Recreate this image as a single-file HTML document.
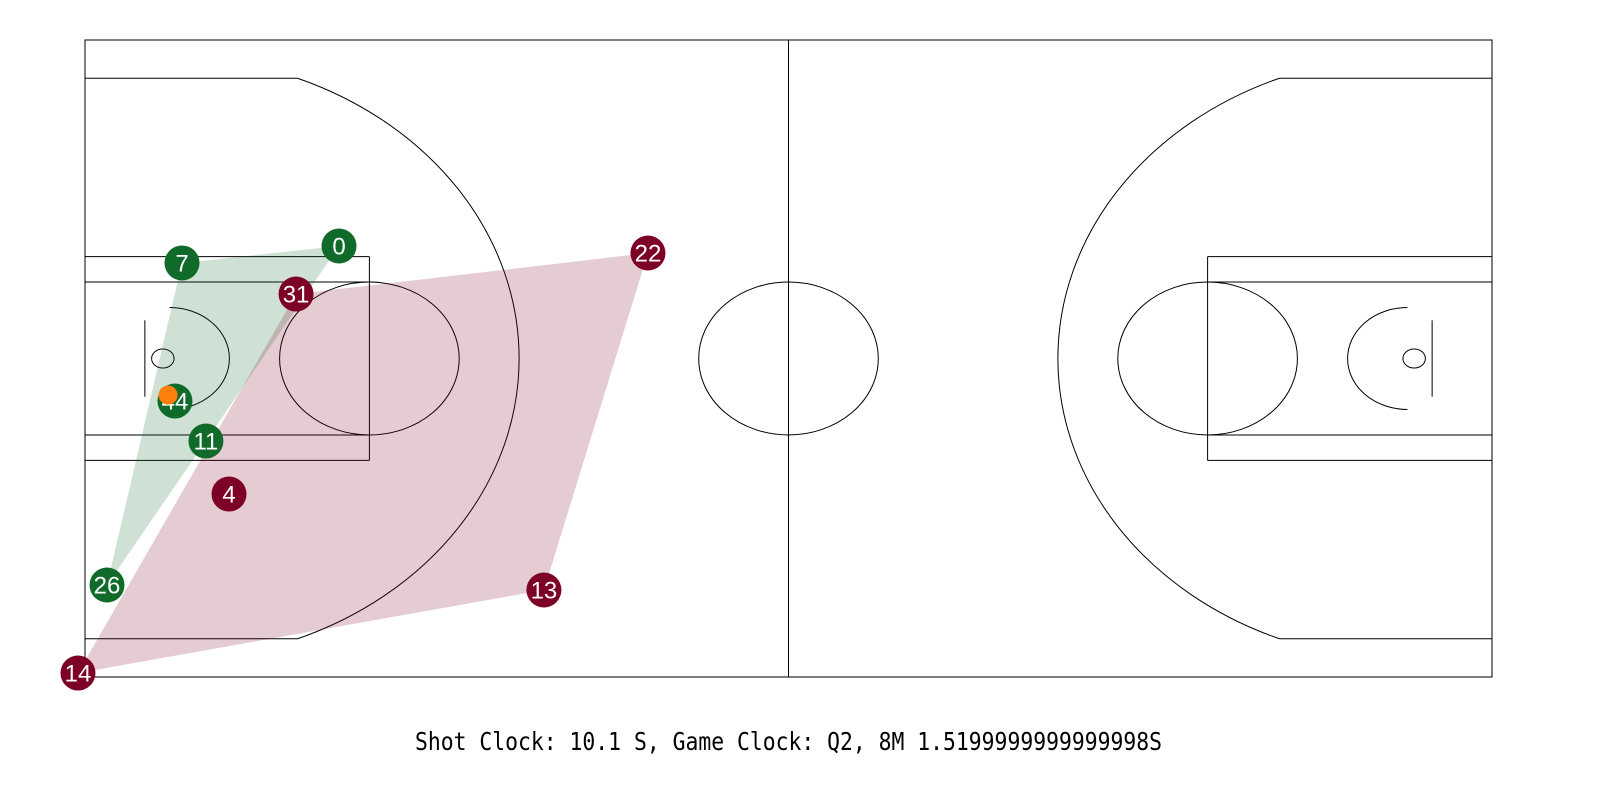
<!DOCTYPE html>
<html><head><meta charset="utf-8"><style>
html,body{margin:0;padding:0;background:#fff;}
svg{display:block;}
</style></head><body>
<svg id="chart" width="1600" height="800" viewBox="0 0 1600 800" xmlns="http://www.w3.org/2000/svg">
<g id="court" fill="none" stroke="#000" stroke-width="1"></g>
<g id="hulls"></g>
<g id="players"></g>
<text id="caption" x="415" y="750" font-family="DejaVu Sans Mono, Liberation Mono, monospace" font-size="25" textLength="747" lengthAdjust="spacingAndGlyphs"></text>
</svg>
<script>
// data (feet, court 94 x 50, y measured from top)
const homeNumbers = ["7","0","44","11","26"];
const homeX = [6.48, 16.97, 6.01, 8.08, 1.47];
const homeY = [17.50, 16.17, 28.34, 31.48, 42.78];
const awayNumbers = ["31","22","4","13","14"];
const awayX = [14.1, 37.61, 9.62, 30.66, -0.47];
const awayY = [19.94, 16.72, 35.64, 43.17, 49.69];
const ballPos = [5.55, 27.87];
const shotClock = ["10.1"];
const gameClock = ["Q2", "8M 1.5199999999999998S"];

const NS = "http://www.w3.org/2000/svg";
const X = v => 85 + v * (1407 / 94);
const Y = v => 40 + v * (637 / 50);
const SX = v => v * (1407 / 94), SY = v => v * (637 / 50);

function mk(tag, attrs, parent) {
  const e = document.createElementNS(NS, tag);
  for (const k in attrs) e.setAttribute(k, attrs[k]);
  parent.appendChild(e);
  return e;
}
const court = document.getElementById('court');
function line(x1, y1, x2, y2, name) {
  const e = mk('line', {x1: X(x1), y1: Y(y1), x2: X(x2), y2: Y(y2)}, court);
  
  
}
function ell(cx, cy, r, name) {
  const e = mk('ellipse', {cx: X(cx), cy: Y(cy), rx: SX(r), ry: SY(r)}, court);
  
  
}
function path(d, name) {
  const e = mk('path', {d: d}, court);
  
  
}
const b = mk('rect', {x: X(0), y: Y(0), width: SX(94), height: SY(50)}, court);


line(47, 0, 47, 50, 'half-court-line');
ell(47, 25, 6, 'center-circle');
[0, 1].forEach(side => {
  const f = v => side ? 94 - v : v;
  const s = side ? 'right' : 'left';
  line(f(0), 17, f(19), 17, s + '-paint-outer-top');
  line(f(0), 33, f(19), 33, s + '-paint-outer-bottom');
  line(f(19), 17, f(19), 33, s + '-free-throw-line');
  line(f(0), 19, f(19), 19, s + '-paint-inner-top');
  line(f(0), 31, f(19), 31, s + '-paint-inner-bottom');
  ell(f(19), 25, 6, s + '-free-throw-circle');
  ell(f(5.2), 25, 0.75, s + '-hoop');
  line(f(4), 22, f(4), 28, s + '-backboard');
  const rx = X(f(5.65));
  path(`M ${rx} ${Y(21)} A ${SX(4)} ${SY(4)} 0 0 ${side ? 0 : 1} ${rx} ${Y(29)}`, s + '-restricted-arc');
  line(f(0), 3, f(14.2), 3, s + '-three-corner-top');
  line(f(0), 47, f(14.2), 47, s + '-three-corner-bottom');
  path(`M ${X(f(14.2))} ${Y(3)} A ${SX(23.75)} ${SY(23.75)} 0 0 ${side ? 0 : 1} ${X(f(14.2))} ${Y(47)}`, s + '-three-point-arc');
});

function hull(xs, ys) {
  const p = xs.map((x, i) => [X(x), Y(ys[i])]).sort((a, b) => a[0] - b[0] || a[1] - b[1]);
  const cr = (o, a, b) => (a[0]-o[0])*(b[1]-o[1]) - (a[1]-o[1])*(b[0]-o[0]);
  const lo = [], up = [];
  for (const q of p) { while (lo.length >= 2 && cr(lo[lo.length-2], lo[lo.length-1], q) <= 0) lo.pop(); lo.push(q); }
  for (const q of p.slice().reverse()) { while (up.length >= 2 && cr(up[up.length-2], up[up.length-1], q) <= 0) up.pop(); up.push(q); }
  return lo.slice(0, -1).concat(up.slice(0, -1));
}
const hg = document.getElementById('hulls');
const h1 = mk('polygon', {points: hull(homeX, homeY).map(p => p.join(',')).join(' '), fill: '#106b2a', 'fill-opacity': 0.2}, hg);


const h2 = mk('polygon', {points: hull(awayX, awayY).map(p => p.join(',')).join(' '), fill: '#7f0022', 'fill-opacity': 0.2}, hg);



const pg = document.getElementById('players');
function players(nums, xs, ys, color, team) {
  nums.forEach((n, i) => {
    const g = mk('g', {}, pg);
    
    
    mk('circle', {cx: X(xs[i]), cy: Y(ys[i]), r: 17.5, fill: color}, g);
    const t = mk('text', {x: X(xs[i]), y: Y(ys[i]) + 8.5, 'text-anchor': 'middle', fill: '#fff', 'font-size': 24, 'font-family': 'Liberation Sans, Arial, sans-serif'}, g);
    t.textContent = n;
  });
}
players(awayNumbers, awayX, awayY, '#7d0027', 'away');
players(homeNumbers, homeX, homeY, '#106b2a', 'home');
const ball = mk('circle', {cx: X(ballPos[0]), cy: Y(ballPos[1]), r: 9.5, fill: '#ff7f0e'}, pg);



document.getElementById('caption').textContent =
  'Shot Clock: ' + shotClock[0] + ' S, Game Clock: ' + gameClock[0] + ', ' + gameClock[1];
</script>
</body></html>
